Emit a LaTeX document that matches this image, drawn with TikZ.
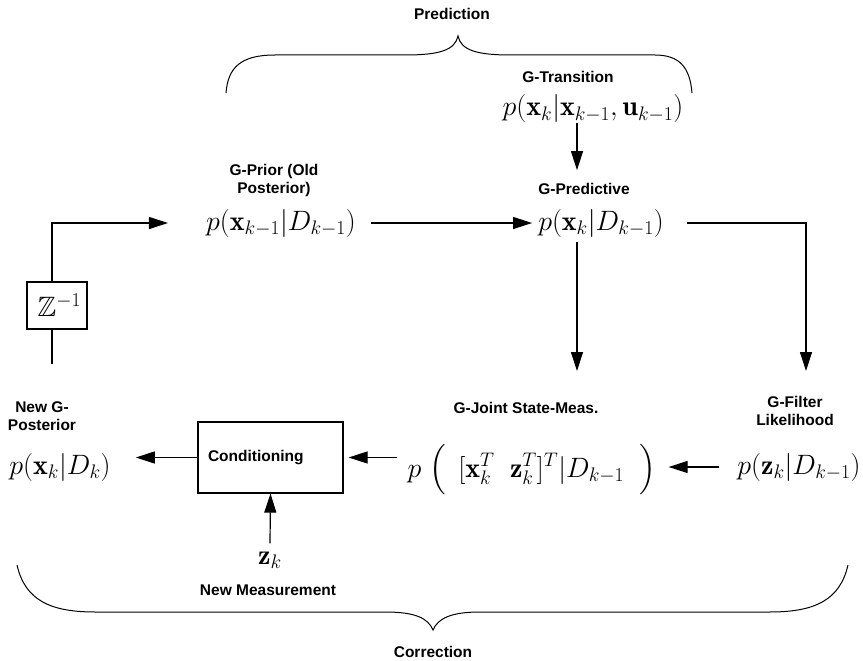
\RequirePackage{fix-cm}
\documentclass[tikz,border=0pt]{standalone}
\usepackage{amsmath,amssymb}
\usepackage{fontspec}
\newfontfamily\labfont{Liberation Sans}
\usetikzlibrary{arrows.meta}
\begin{document}
\begin{tikzpicture}[x=1pt,y=-1pt,
  lab/.style={font=\labfont\bfseries\fontsize{15.5}{18}\selectfont, align=center, inner sep=0pt},
  mth/.style={font=\fontsize{28}{33}\selectfont, inner sep=0pt},
  arr/.style={-{Triangle[length=19pt,width=12pt]}, line width=1.2pt},
  ln/.style={line width=1.2pt},
  brace/.style={line width=1pt}]
\useasboundingbox (0,0) rectangle (863,661);

% top brace
\node[lab] (pred) at (452,14) {Prediction};
\draw[brace] (226,93) .. controls (228,68) and (240,55) .. (275,55) -- (405,55)
  .. controls (440,55) and (455,50) .. (458,36)
  .. controls (461,50) and (476,55) .. (511,55) -- (655,55)
  .. controls (680,55) and (690,68) .. (692,93);

% prediction part
\node[lab] (gtr) at (568,77) {G-Transition};
\node[mth] (trans) at (593,109) {$p(\mathbf{x}_k|\mathbf{x}_{k-1},\mathbf{u}_{k-1})$};
\node[lab] (gpd) at (584,189) {G-Predictive};
\node[mth] (pdv) at (601,223) {$p(\mathbf{x}_k|D_{k-1})$};
\node[lab] (gprior) at (274,180) {G-Prior (Old\\Posterior)};
\node[mth] (prior) at (281,223) {$p(\mathbf{x}_{k-1}|D_{k-1})$};
\coordinate (ax) at (577,0);
\coordinate (lx) at (52,0);
\coordinate (mt) at (577,371);
\coordinate (rt) at (806,371);

\draw[arr] (trans.south -| ax) -- ([yshift=13pt]gpd.north -| ax);
\draw[arr] ([xshift=15pt]prior.east) -- ([xshift=-6pt]pdv.west);
\draw[arr, shorten <=5pt] (pdv.south -| ax) -- (mt);

% Z^-1 loop
\node[draw, ln, minimum width=60pt, minimum height=47pt, inner sep=0pt] (zbox) at (57,305.5) {\fontsize{28}{33}\selectfont$\,\mathbb{Z}^{-1}$};
\draw[ln] (zbox.south -| lx) -- (lx |- 0,364);
\draw[arr] (zbox.north -| lx) |- ([xshift=-38pt]prior.west);

% correction part
\node[lab] (newpost) at (42,416) {New G-\\Posterior};
\node[mth] (post) at (60,467) {$p(\mathbf{x}_k|D_k)$};
\node[draw, ln, minimum height=71pt, text width=125pt, inner xsep=10pt, inner ysep=0pt,
  align=left, font=\labfont\bfseries\fontsize{15.5}{18}\selectfont] (cond) at (270.5,457.5) {Conditioning};
\node[lab] (gjoint) at (526,408) {G-Joint State-Meas.};
\node[mth] (joint) at (532,470) {$p\;\Bigl(\;\,[\mathbf{x}_k^T\;\;\mathbf{z}_k^T]^T|D_{k-1}\;\;\Bigr)$};
\node[lab] (gfl) at (795,411) {G-Filter\\Likelihood};
\node[mth] (zl) at (799,467) {$p(\mathbf{z}_k|D_{k-1})$};

\draw[arr] (pdv.east) ++(23,0) -| (rt);
\draw[arr] ([xshift=-18pt]zl.west) -- ([xshift=12pt]joint.east |- zl.west);
\draw[arr, shorten >=5pt] ([xshift=-10pt]joint.west |- cond.east) -- (cond.east);
\draw[arr] (cond.west) -- ([xshift=25pt]post.east |- cond.west);

\node[mth] (zk) at (270,560) {$\mathbf{z}_k$};
\draw[arr] ([yshift=8pt]zk.north) -- (cond.south);
\node[lab] (nm) at (268,590) {New Measurement};

% bottom brace
\draw[brace] (17,565) .. controls (25,600) and (50,612) .. (95,612) -- (385,612)
  .. controls (415,612) and (428,618) .. (433,630)
  .. controls (438,618) and (452,612) .. (480,612) -- (770,612)
  .. controls (815,612) and (840,600) .. (848,565);
\node[lab] (corr) at (433,652) {Correction};
\end{tikzpicture}
\end{document}
